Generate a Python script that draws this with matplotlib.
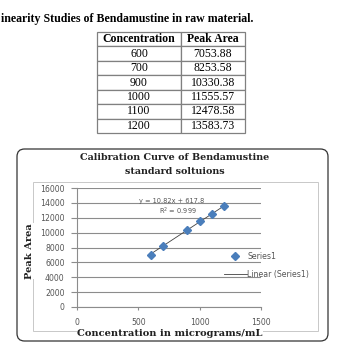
import numpy as np
import matplotlib
matplotlib.use("Agg")
import matplotlib.pyplot as plt
from matplotlib.patches import FancyBboxPatch, Rectangle
from matplotlib.lines import Line2D

# data
conc = [600, 700, 900, 1000, 1100, 1200]
peak_area = [7053.88, 8253.58, 10330.38, 11555.57, 12478.58, 13583.73]
col_labels = ["Concentration", "Peak Area"]
eq_text = "y = 10.82x + 617.8"
r2_text = "R$^2$ = 0.999"
x_ticks = [0, 500, 1000, 1500]
y_ticks = [0, 2000, 4000, 6000, 8000, 10000, 12000, 14000, 16000]

W, H = 344, 345
fig = plt.figure(figsize=(W / 100, H / 100), dpi=100)


def fx(px):
    return px / W


def fy(py):
    return 1 - py / H


# table heading (the scan starts mid-word)
fig.text(fx(1), fy(19), "inearity Studies of Bendamustine in raw material.",
         family="Liberation Serif", weight="bold", fontsize=8.6, va="center", ha="left")

# table
tax = fig.add_axes([fx(97), fy(133), fx(245) - fx(97), fy(32) - fy(133)])
tax.axis("off")
cells = [[str(c), "%.2f" % a] for c, a in zip(conc, peak_area)]
tbl = tax.table(cellText=cells, colLabels=col_labels, bbox=[0, 0, 1, 1],
                colWidths=[84 / 148, 64 / 148], cellLoc="center")
tbl.auto_set_font_size(False)
for (r, c), cell in tbl.get_celld().items():
    cell.set_edgecolor("#808080")
    cell.set_linewidth(0.9)
    cell.get_text().set_fontfamily("Liberation Serif")
    cell.get_text().set_fontsize(8.5)
    if r == 0:
        cell.get_text().set_fontweight("bold")

# chart frame
outer = FancyBboxPatch((fx(17), fy(341)), fx(328) - fx(17), fy(149) - fy(341),
                       boxstyle="round,pad=0,rounding_size=0.022",
                       transform=fig.transFigure, fill=False, edgecolor="#333333", lw=0.9)
fig.patches.append(outer)
inner = Rectangle((fx(33), fy(331)), fx(318) - fx(33), fy(182) - fy(331),
                  transform=fig.transFigure, fill=False, edgecolor="#c8c8c8", lw=0.7)
fig.patches.append(inner)

fig.text(fx(175), fy(157), "Calibration Curve of Bendamustine", family="DejaVu Serif",
         weight="bold", fontsize=6.9, ha="center", va="center", color="#222222")
fig.text(fx(175), fy(171), "standard soltuions", family="DejaVu Serif",
         weight="bold", fontsize=6.9, ha="center", va="center", color="#222222")

# plot
ax = fig.add_axes([fx(77), fy(307), fx(261) - fx(77), fy(188) - fy(307)])
ax.set_xlim(0, 1500)
ax.set_ylim(0, 16000)
ax.set_xticks(x_ticks)
ax.set_yticks(y_ticks)
ax.yaxis.grid(True, color="#8c8c8c", lw=0.8)
ax.set_axisbelow(True)
for s in ["top", "right"]:
    ax.spines[s].set_visible(False)
for s in ["left", "bottom"]:
    ax.spines[s].set_color("#8c8c8c")
    ax.spines[s].set_linewidth(0.8)
ax.tick_params(axis="y", length=4, width=0.8, color="#8c8c8c", labelsize=5.6,
               labelcolor="#555555", pad=5)
ax.tick_params(axis="x", length=2.5, width=0.8, color="#8c8c8c", labelsize=5.6,
               labelcolor="#555555", pad=5.5)
for lab in ax.get_xticklabels() + ax.get_yticklabels():
    lab.set_fontfamily("DejaVu Sans")

slope, intercept = np.polyfit(conc, peak_area, 1)
xs = np.array([conc[0], conc[-1]])
ax.plot(xs, slope * xs + intercept, color="#404040", lw=0.6, zorder=2)
ax.plot(conc, peak_area, ls="none", marker="D", ms=4.2, color="#4a7ebb",
        mec="#4a7ebb", zorder=3)

ax.text(774, 14252, eq_text, fontsize=4.8, color="#555555", ha="center", va="center")
ax.text(823, 12907, r2_text, fontsize=4.8, color="#555555", ha="center", va="center")

fig.text(fx(170), fy(334), "Concentration in micrograms/mL", family="DejaVu Serif",
         weight="bold", fontsize=7.1, color="#222222", ha="center", va="center",
         bbox=dict(fc="white", ec="none", pad=0))
fig.text(fx(30), fy(251), "Peak Area", family="DejaVu Serif", weight="bold",
         fontsize=7.1, color="#222222", rotation=90, ha="center", va="center",
         bbox=dict(fc="white", ec="none", pad=0))

handles = [Line2D([], [], ls="none", marker="D", ms=4.2, color="#4a7ebb"),
           Line2D([], [], color="#404040", lw=0.6)]
fig.legend(handles, ["Series1", "Linear (Series1)"], loc="center left",
           bbox_to_anchor=(fx(224), fy(265.5)), bbox_transform=fig.transFigure,
           frameon=False, fontsize=5.6, handlelength=2.9, handletextpad=0.1,
           labelspacing=1.2, borderpad=0, borderaxespad=0, labelcolor="#555555")

fig.savefig("out.png", dpi=100)
